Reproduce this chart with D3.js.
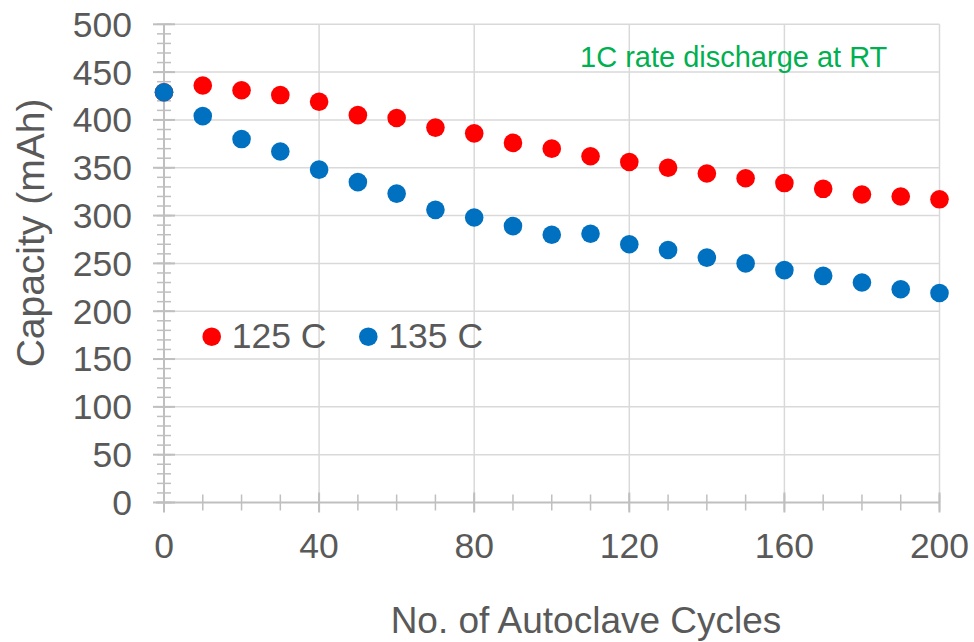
<!DOCTYPE html>
<html>
<head>
<meta charset="utf-8">
<script src="https://cdn.jsdelivr.net/npm/d3@7"></script>
<style>
  html, body { margin: 0; padding: 0; background: #fff; }
  svg { display: block; font-family: "Liberation Sans", Arial, sans-serif; }
  .tick-label { fill: #595959; font-size: 35.5px; }
  .axis-title { fill: #595959; font-size: 37px; }
  .y-title { font-size: 39px; }
  .legend-text { fill: #595959; font-size: 35.5px; }
  .note { fill: #00b050; font-size: 29px; }
</style>
</head>
<body>
<svg id="chart" width="974" height="642"></svg>
<script>
// data
const cycles = [0, 10, 20, 30, 40, 50, 60, 70, 80, 90, 100, 110, 120, 130, 140, 150, 160, 170, 180, 190, 200];
const cap125 = [429, 436, 431, 426, 419, 405, 402, 392, 386, 376, 370, 362, 356, 350, 344, 339, 334, 328, 322, 320, 317];
const cap135 = [429, 404, 380, 367, 348, 335, 323, 306, 298, 289, 280, 281, 270, 264, 256, 250, 243, 237, 230, 223, 219];
const xTicks = [0, 40, 80, 120, 160, 200];
const yTicks = [0, 50, 100, 150, 200, 250, 300, 350, 400, 450, 500];
const series = [
  { name: "125 C", values: cap125, color: "#ff0000" },
  { name: "135 C", values: cap135, color: "#0070c0" },
];

const svg = d3.select("#chart");
const plot = { left: 164, right: 939.5, top: 24.3, bottom: 502.5 };

const x = d3.scaleLinear().domain([0, 200]).range([plot.left, plot.right]);
const y = d3.scaleLinear().domain([0, 500]).range([plot.bottom, plot.top]);

const gridColor = "#d9d9d9";
const axisColor = "#bfbfbf";

// gridlines
svg.append("g").selectAll("line").data(yTicks.slice(1)).join("line")
  .attr("x1", plot.left).attr("x2", plot.right)
  .attr("y1", (d) => y(d)).attr("y2", (d) => y(d))
  .attr("stroke", gridColor).attr("stroke-width", 1.5);
svg.append("g").selectAll("line").data(xTicks.slice(1)).join("line")
  .attr("x1", (d) => x(d)).attr("x2", (d) => x(d))
  .attr("y1", plot.top).attr("y2", plot.bottom)
  .attr("stroke", gridColor).attr("stroke-width", 1.5);

// minor ticks (crossing the axis)
const xMinor = d3.range(0, 201, 10);
const yMinor = d3.range(0, 501, 10);
svg.append("g").selectAll("line").data(xMinor).join("line")
  .attr("x1", (d) => x(d)).attr("x2", (d) => x(d))
  .attr("y1", plot.bottom - 8).attr("y2", plot.bottom + 8)
  .attr("stroke", axisColor).attr("stroke-width", 1.5);
svg.append("g").selectAll("line").data(yMinor).join("line")
  .attr("x1", plot.left - 7).attr("x2", plot.left + 7)
  .attr("y1", (d) => y(d)).attr("y2", (d) => y(d))
  .attr("stroke", axisColor).attr("stroke-width", 1.5);

// major ticks
svg.append("g").selectAll("line").data(xTicks).join("line")
  .attr("x1", (d) => x(d)).attr("x2", (d) => x(d))
  .attr("y1", plot.bottom - 10).attr("y2", plot.bottom + 10)
  .attr("stroke", axisColor).attr("stroke-width", 2);
svg.append("g").selectAll("line").data(yTicks).join("line")
  .attr("x1", plot.left - 11).attr("x2", plot.left + 11)
  .attr("y1", (d) => y(d)).attr("y2", (d) => y(d))
  .attr("stroke", axisColor).attr("stroke-width", 2);

// axis lines
svg.append("line")
  .attr("x1", plot.left).attr("x2", plot.left)
  .attr("y1", plot.top).attr("y2", plot.bottom + 8)
  .attr("stroke", axisColor).attr("stroke-width", 2);
svg.append("line")
  .attr("x1", plot.left - 8).attr("x2", plot.right)
  .attr("y1", plot.bottom).attr("y2", plot.bottom)
  .attr("stroke", axisColor).attr("stroke-width", 2);

// tick labels
svg.append("g").selectAll("text").data(yTicks).join("text")
  .attr("class", "tick-label")
  .attr("x", 132).attr("y", (d) => y(d))
  .attr("dy", "0.35em")
  .attr("text-anchor", "end")
  .text((d) => d);
svg.append("g").selectAll("text").data(xTicks).join("text")
  .attr("class", "tick-label")
  .attr("x", (d) => x(d)).attr("y", 558)
  .attr("text-anchor", "middle")
  .text((d) => d);

// axis titles
svg.append("text")
  .attr("class", "axis-title y-title")
  .attr("transform", "translate(44,233) rotate(-90)")
  .attr("text-anchor", "middle")
  .text("Capacity (mAh)");
svg.append("text")
  .attr("class", "axis-title")
  .attr("x", 586).attr("y", 633)
  .attr("text-anchor", "middle")
  .text("No. of Autoclave Cycles");

// points
for (const s of series) {
  svg.append("g").selectAll("circle").data(cycles).join("circle")
    .attr("cx", (d) => x(d))
    .attr("cy", (d, i) => y(s.values[i]))
    .attr("r", 9.3)
    .attr("fill", s.color);
}

// legend
const legend = svg.append("g").attr("transform", "translate(211.7,336.7)");
const legendOffsets = [0, 156.6];
series.forEach((s, i) => {
  const g = legend.append("g").attr("transform", `translate(${legendOffsets[i]},0)`);
  g.append("circle").attr("r", 9.3).attr("fill", s.color);
  g.append("text").attr("class", "legend-text")
    .attr("x", 20).attr("y", 11)
    .text(s.name);
});

// annotation
svg.append("text")
  .attr("class", "note")
  .attr("x", 580).attr("y", 67)
  .text("1C rate discharge at RT");
</script>
</body>
</html>
